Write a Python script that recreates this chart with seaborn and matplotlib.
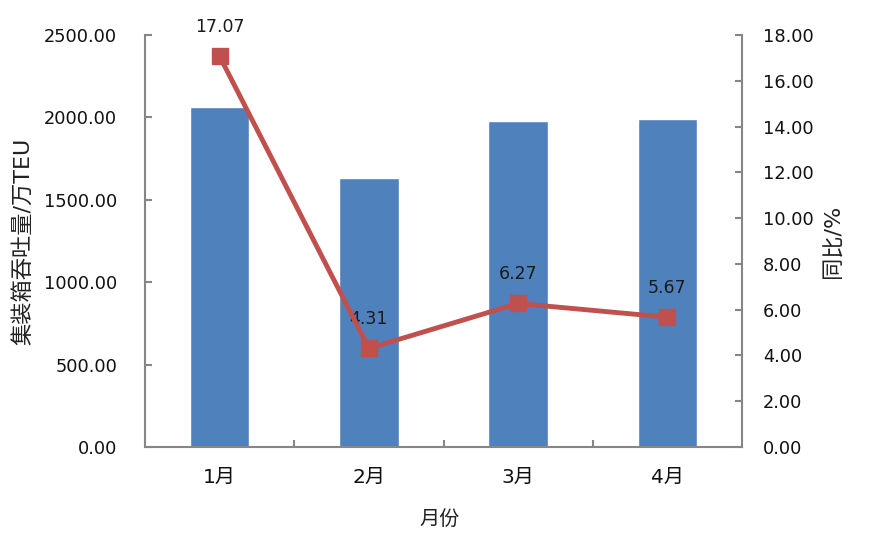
import numpy as np
import pandas as pd
import matplotlib
matplotlib.use("Agg")
import matplotlib.pyplot as plt
import seaborn as sns

months = ["1月", "2月", "3月", "4月"]
throughput = [2061, 1632, 1978, 1992]
yoy = [17.07, 4.31, 6.27, 5.67]
left_ticks = [0, 500, 1000, 1500, 2000, 2500]
right_ticks = [0, 2, 4, 6, 8, 10, 12, 14, 16, 18]

sns.set_theme(style="white")
plt.rcParams['font.family'] = ['DejaVu Sans', 'Noto Sans CJK SC']

BAR = "#4F81BD"
LINE = "#C0504D"
GRAY = "#868686"

fig = plt.figure(figsize=(8.69, 5.39), dpi=100)
ax = fig.add_axes([145/869, 1-447/539, 597/869, 412/539])

df = pd.DataFrame({"month": months, "throughput": throughput})
sns.barplot(data=df, x="month", y="throughput", color=BAR, width=0.4,
            saturation=1, ax=ax)
ax.set_ylim(0, 2500)
ax.set_xlim(-0.5, len(months) - 0.5)
ax.set_yticks(left_ticks)
ax.set_yticklabels([f"{v:.2f}" for v in left_ticks])

ax2 = ax.twinx()
x = np.arange(len(months))
ax2.plot(x, yoy, color=LINE, lw=3.5, marker="s", markersize=12,
         markerfacecolor=LINE, markeredgecolor=LINE, zorder=5)
ax2.set_ylim(0, 18)
ax2.set_yticks(right_ticks)
ax2.set_yticklabels([f"{v:.2f}" for v in right_ticks])
for xi, v in zip(x, yoy):
    ax2.annotate(f"{v:.2f}", (xi, v), xytext=(0, 21), textcoords="offset points",
                 ha="center", va="center", fontsize=12.5, color="#1a1a1a")

# spines
for a in (ax, ax2):
    for s in a.spines.values():
        s.set_visible(False)
ax.spines["left"].set_visible(True)
ax.spines["bottom"].set_visible(True)
ax2.spines["right"].set_visible(True)
for s in (ax.spines["left"], ax.spines["bottom"], ax2.spines["right"]):
    s.set_color(GRAY)
    s.set_linewidth(1.5)

# ticks
ax.set_xticks(x)
ax.set_xticklabels(months)
ax.set_xticks(np.arange(0.5, len(months) - 0.5, 1), minor=True)
ax.tick_params(axis="x", which="major", length=0, pad=15, labelsize=14.5, colors="#111111")
ax.tick_params(axis="x", which="minor", direction="in", length=5, width=1.5,
               color=GRAY, bottom=True)
ax.tick_params(axis="y", direction="in", length=5, width=1.5, color=GRAY,
               pad=20, labelsize=12.8, labelcolor="#111111", left=True)
ax2.tick_params(axis="y", direction="in", length=5, width=1.5, color=GRAY,
                pad=15, labelsize=12.8, labelcolor="#111111", right=True)

ax.set_xlabel("月份", fontsize=14.5, color="#222222")
ax.xaxis.set_label_coords(0.494, -0.153)
ax.set_ylabel("集装箱吞吐量/万TEU", fontsize=16, color="#222222")
ax.yaxis.set_label_coords(-0.188, 0.5)
ax2.set_ylabel("同比/%", fontsize=16, color="#222222", rotation=90)
ax2.yaxis.set_label_coords(1.136, 0.5)

fig.savefig("out.png", dpi=100)
